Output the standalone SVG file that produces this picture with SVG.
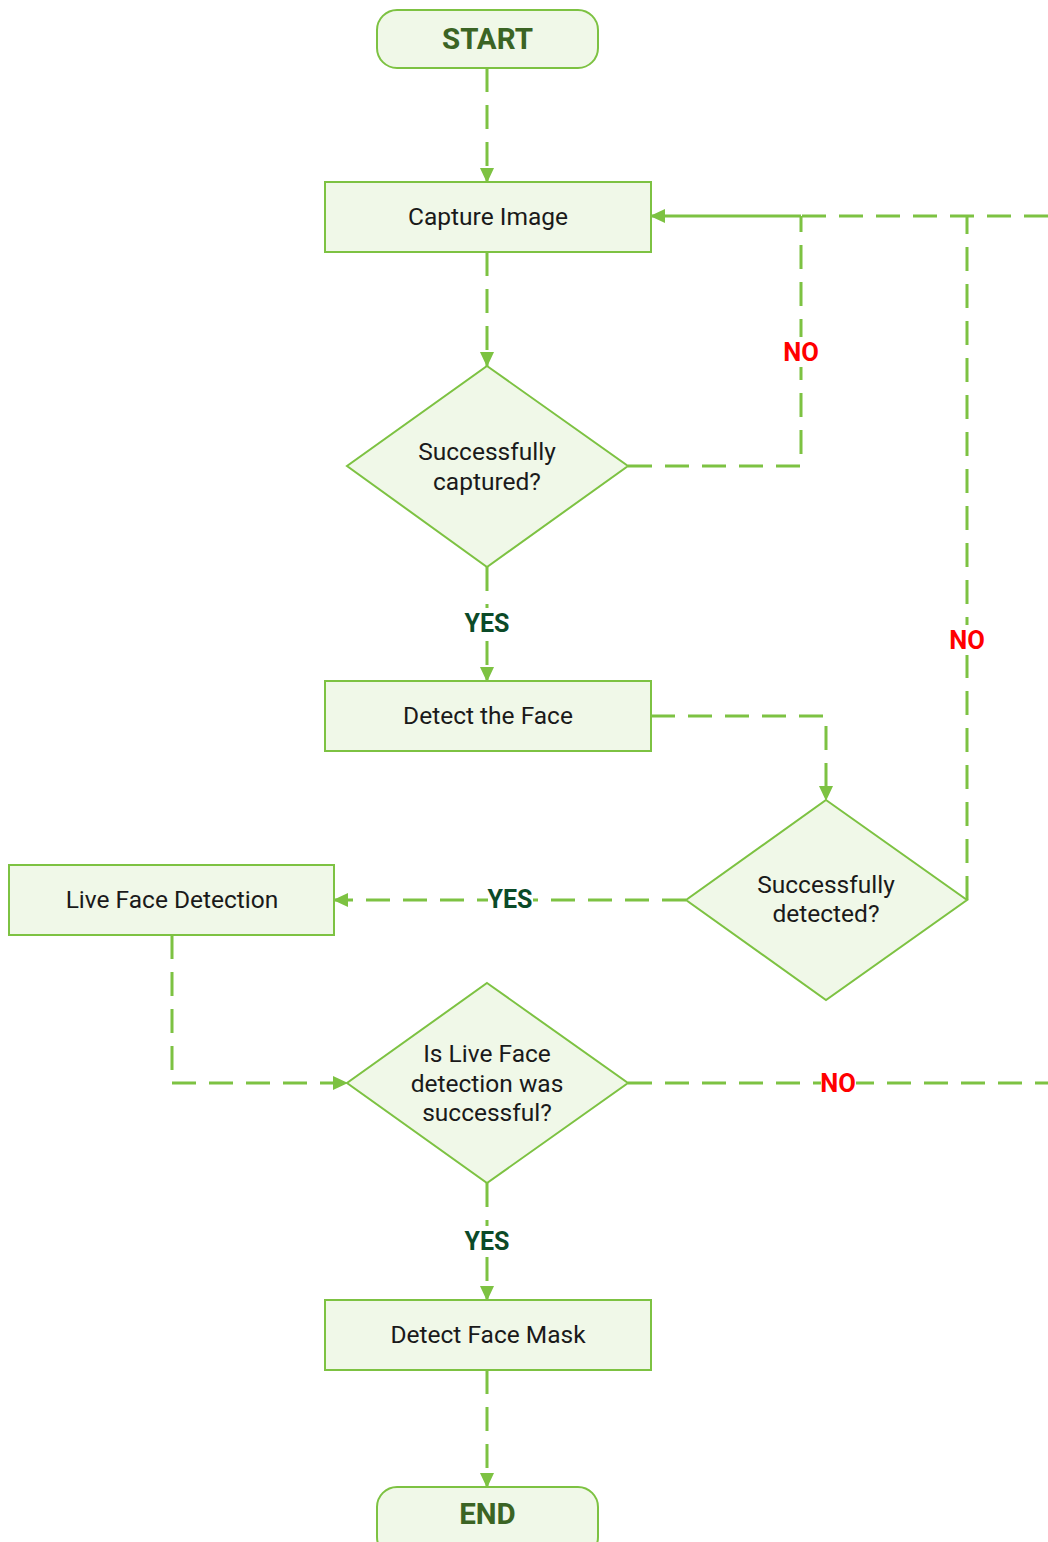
<svg xmlns="http://www.w3.org/2000/svg" width="1048" height="1542" viewBox="0 0 1048 1542">
<defs>
<marker id="arr" markerWidth="16" markerHeight="16" refX="14" refY="8" orient="auto" markerUnits="userSpaceOnUse">
<path d="M0,1 L15,8 L0,15 Z" fill="#7DC242"/>
</marker>
<style>
.node{fill:#F0F8E8;stroke:#7DC242;stroke-width:2}
.t{font-family:Roboto,"Liberation Sans",sans-serif;font-size:24.5px;fill:#1a1a1a;text-anchor:middle;dominant-baseline:central}
.term{font-family:Roboto,"Liberation Sans",sans-serif;font-size:29.5px;font-weight:bold;fill:#3B6424;text-anchor:middle;dominant-baseline:central}
.c{fill:none;stroke:#7DC242;stroke-width:3;stroke-dasharray:24 13}
.s{fill:none;stroke:#7DC242;stroke-width:3}
.yes{font-family:Roboto,"Liberation Sans",sans-serif;font-size:25px;font-weight:bold;fill:#0B4A28;text-anchor:middle;dominant-baseline:central}
.no{font-family:Roboto,"Liberation Sans",sans-serif;font-size:25.5px;font-weight:bold;fill:#FF0000;text-anchor:middle;dominant-baseline:central}
.bg{fill:#FFFFFF}
</style>
</defs>
<rect width="1048" height="1542" fill="#FFFFFF"/>
<g id="connectors">
<path class="c" d="M487,68 V182" marker-end="url(#arr)"/>
<path class="c" d="M487,252 V366" marker-end="url(#arr)"/>
<path class="c" d="M628,466 H801 V216"/>
<path class="c" d="M967,900 V216"/>
<path class="c" d="M1048,216 H801"/>
<path class="s" d="M801,216 H651" marker-end="url(#arr)"/>
<path class="c" d="M487,567 V681" marker-end="url(#arr)"/>
<path class="c" d="M651,716 H826 V800" marker-end="url(#arr)"/>
<path class="c" d="M686,900 H334" marker-end="url(#arr)"/>
<path class="c" d="M172,935 V1083 H347" marker-end="url(#arr)"/>
<path class="c" d="M628,1083 H1048"/>
<path class="c" d="M487,1183 V1300" marker-end="url(#arr)"/>
<path class="c" d="M487,1370 V1487" marker-end="url(#arr)"/>
<rect class="bg" x="783" y="337" width="36" height="30"/>
<text class="no" x="801" y="352">NO</text>
<rect class="bg" x="949" y="625" width="36" height="30"/>
<text class="no" x="967" y="640">NO</text>
<rect class="bg" x="821" y="1070" width="35" height="26"/>
<text class="no" x="838" y="1083">NO</text>
<rect class="bg" x="465" y="608" width="45" height="30"/>
<text class="yes" x="487" y="623">YES</text>
<rect class="bg" x="488" y="886" width="45" height="26"/>
<text class="yes" x="510" y="899">YES</text>
<rect class="bg" x="465" y="1226" width="45" height="30"/>
<text class="yes" x="487" y="1241">YES</text>
</g>
<g id="start"><rect class="node" x="377" y="10" width="221" height="58" rx="20"/><text class="term" x="487.5" y="39">START</text></g>
<g id="capture"><rect class="node" x="325" y="182" width="326" height="70"/><text class="t" x="488" y="216">Capture Image</text></g>
<g id="captured"><polygon class="node" points="487,366 628,466 487,567 347,466"/><text class="t" x="487" y="451">Successfully</text><text class="t" x="487" y="481">captured?</text></g>
<g id="detect"><rect class="node" x="325" y="681" width="326" height="70"/><text class="t" x="488" y="715">Detect the Face</text></g>
<g id="detected"><polygon class="node" points="826,800 967,900 826,1000 686,900"/><text class="t" x="826" y="884">Successfully</text><text class="t" x="826" y="913">detected?</text></g>
<g id="live"><rect class="node" x="9" y="865" width="325" height="70"/><text class="t" x="172" y="899">Live Face Detection</text></g>
<g id="liveok"><polygon class="node" points="487,983 628,1083 487,1183 347,1083"/><text class="t" x="487" y="1053">Is Live Face</text><text class="t" x="487" y="1083">detection was</text><text class="t" x="487" y="1112">successful?</text></g>
<g id="mask"><rect class="node" x="325" y="1300" width="326" height="70"/><text class="t" x="488" y="1334">Detect Face Mask</text></g>
<g id="end"><rect class="node" x="377" y="1487" width="221" height="70" rx="20"/><text class="term" x="487.5" y="1514">END</text></g>
</svg>
